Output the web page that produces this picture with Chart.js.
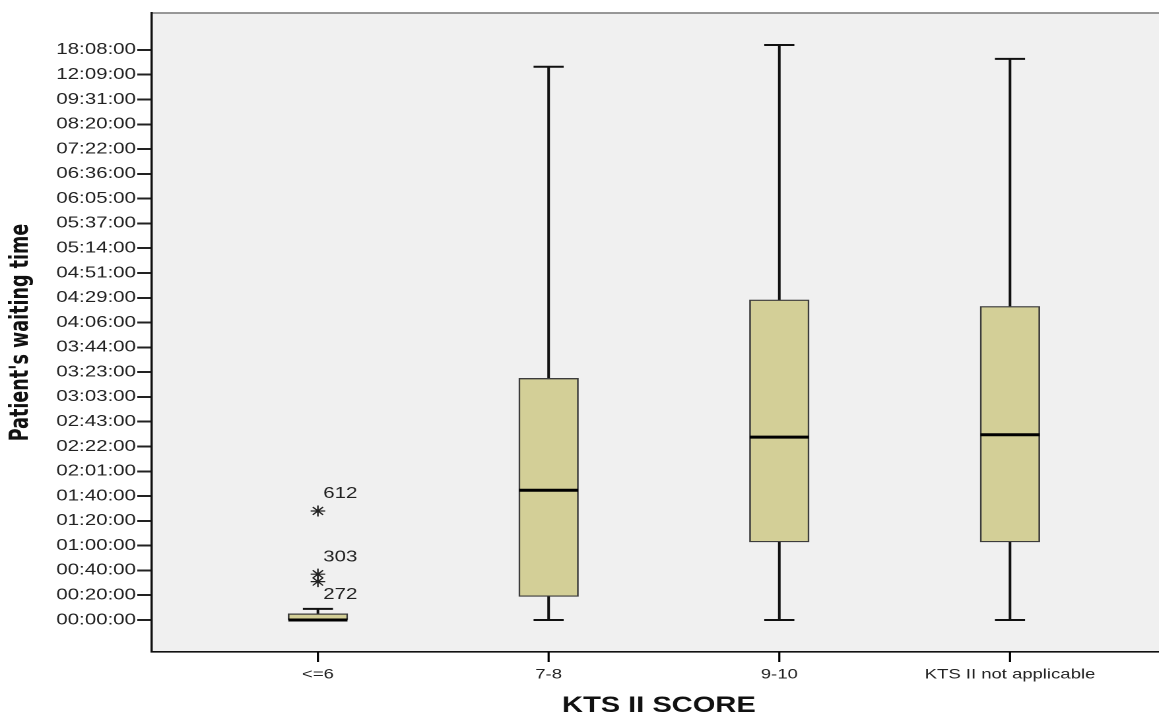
<!DOCTYPE html>
<html>
<head>
<meta charset="utf-8">
<script src="https://cdn.jsdelivr.net/npm/chart.js@4.4.1/dist/chart.umd.min.js"></script>
<style>
  html, body { margin: 0; padding: 0; background: #fff; overflow: hidden; }
  /* the reference is stretched sideways, so the canvas is too */
  #wrap { width: 890px; height: 715px; transform: scaleX(1.32); transform-origin: 0 0; }
</style>
</head>
<body>
<div id="wrap"><canvas id="chart"></canvas></div>
<script>
// groups on the x axis
const categories = ['<=6', '7-8', '9-10', 'KTS II not applicable'];

// y axis tick labels (SPSS axis, equally spaced ticks)
const yTickLabels = ['00:00:00', '00:20:00', '00:40:00', '01:00:00', '01:20:00', '01:40:00',
  '02:01:00', '02:22:00', '02:43:00', '03:03:00', '03:23:00', '03:44:00', '04:06:00',
  '04:29:00', '04:51:00', '05:14:00', '05:37:00', '06:05:00', '06:36:00', '07:22:00',
  '08:20:00', '09:31:00', '12:09:00', '18:08:00'];

// box plot values (h:mm)
const whiskerLow  = ['0:00', '0:00', '0:00', '0:00'];
const q1          = ['0:00', '0:19', '1:03', '1:03'];
const median      = ['0:00', '1:45', '2:30', '2:32'];
const q3          = ['0:05', '3:18', '4:27', '4:21'];
const whiskerHigh = ['0:09', '14:04', '19:20', '15:59'];

// extreme values (stars) with their case numbers
const outlierGroup = [0, 0, 0];
const outlierTime  = ['1:28', '0:37', '0:31'];
const outlierCase  = ['612', '303', '272'];

const toMin = s => { const p = s.split(':').map(Number); return p[0] * 60 + p[1]; };
const tickMins = yTickLabels.map(toMin);

// place a time on the equally spaced tick axis
function axisPos(t) {
  const m = toMin(t);
  for (let i = 0; i < tickMins.length - 1; i++) {
    if (m <= tickMins[i + 1]) return i + (m - tickMins[i]) / (tickMins[i + 1] - tickMins[i]);
  }
  const n = tickMins.length - 1;
  return n + (m - tickMins[n]) / (tickMins[n] - tickMins[n - 1]);
}

const FONT = '"Liberation Sans", Arial, sans-serif';

const boxPlotExtras = {
  id: 'boxPlotExtras',
  beforeDraw(chart) {
    const { ctx, chartArea: a } = chart;
    ctx.save();
    ctx.fillStyle = '#f0f0f0';
    ctx.fillRect(a.left, a.top, a.right - a.left, a.bottom - a.top);
    ctx.strokeStyle = '#8a8a8a';
    ctx.lineWidth = 1.8;
    ctx.beginPath();
    ctx.moveTo(a.left, a.top);
    ctx.lineTo(a.right + 10, a.top);
    ctx.stroke();
    ctx.restore();
  },
  beforeDatasetsDraw(chart) {
    const { ctx, chartArea: a, scales: { x, y } } = chart;
    const capHalf = 11.4;
    ctx.save();
    ctx.strokeStyle = '#111';
    categories.forEach((c, i) => {
      const px = x.getPixelForValue(i);
      const lo = y.getPixelForValue(axisPos(whiskerLow[i]));
      const b1 = y.getPixelForValue(axisPos(q1[i]));
      const b3 = y.getPixelForValue(axisPos(q3[i]));
      const hi = y.getPixelForValue(axisPos(whiskerHigh[i]));
      ctx.lineWidth = 2;
      ctx.beginPath();
      ctx.moveTo(px, b3); ctx.lineTo(px, hi);
      ctx.moveTo(px, b1); ctx.lineTo(px, lo);
      ctx.stroke();
      ctx.beginPath();
      ctx.moveTo(px - capHalf, hi); ctx.lineTo(px + capHalf, hi);
      if (b1 !== lo) { ctx.moveTo(px - capHalf, lo); ctx.lineTo(px + capHalf, lo); }
      ctx.stroke();
      // category tick mark under the axis
      ctx.lineWidth = 1.6;
      ctx.strokeStyle = '#000';
      ctx.beginPath();
      ctx.moveTo(px, a.bottom); ctx.lineTo(px, a.bottom + 10);
      ctx.stroke();
      ctx.strokeStyle = '#111';
    });
    ctx.restore();
  },
  afterDatasetsDraw(chart) {
    const { ctx, scales: { x, y } } = chart;
    const half = 22.4;
    ctx.save();
    ctx.strokeStyle = '#000';
    ctx.lineWidth = 3;
    categories.forEach((c, i) => {
      const px = x.getPixelForValue(i);
      const py = y.getPixelForValue(axisPos(median[i]));
      ctx.beginPath();
      ctx.moveTo(px - half, py); ctx.lineTo(px + half, py);
      ctx.stroke();
    });
    // case numbers next to the stars
    ctx.fillStyle = '#222';
    ctx.font = '15.5px ' + FONT;
    ctx.textAlign = 'left';
    ctx.textBaseline = 'middle';
    outlierTime.forEach((t, i) => {
      const px = x.getPixelForValue(outlierGroup[i]);
      const py = y.getPixelForValue(axisPos(t));
      const crowded = outlierTime.some((o, j) => j !== i && outlierGroup[j] === outlierGroup[i] &&
        toMin(o) > toMin(t) && py - y.getPixelForValue(axisPos(o)) < 12);
      ctx.fillText(outlierCase[i], px + 4, crowded ? py + 13 : py - 17);
    });
    ctx.restore();
  }
};

new Chart(document.getElementById('chart'), {
  type: 'bar',
  data: {
    datasets: [{
      label: 'box',
      data: categories.map((c, i) => ({ x: i, y: [axisPos(q1[i]), axisPos(q3[i])] })),
      backgroundColor: '#d3cf97',
      borderColor: '#3c3c3c',
      borderWidth: 1.3,
      borderSkipped: false,
      barThickness: 45
    }, {
      type: 'scatter',
      label: 'extremes',
      data: outlierTime.map((t, i) => ({ x: outlierGroup[i], y: axisPos(t) })),
      pointStyle: 'star',
      pointRadius: 5.5,
      borderColor: '#222',
      borderWidth: 1.2,
      backgroundColor: '#222'
    }]
  },
  options: {
    responsive: true,
    maintainAspectRatio: false,
    devicePixelRatio: 2,
    animation: false,
    layout: { padding: { top: 13, right: 2, bottom: 0, left: 0 } },
    plugins: { legend: { display: false }, tooltip: { enabled: false } },
    scales: {
      x: {
        type: 'linear',
        offset: false,
        min: -0.72,
        max: 3.676,
        afterBuildTicks: s => { s.ticks = categories.map((c, i) => ({ value: i })); },
        afterFit: s => { s.height = 63; },
        ticks: {
          autoSkip: false,
          maxRotation: 0,
          padding: 6,
          color: '#222',
          font: { family: FONT, size: 14 },
          callback: v => categories[v]
        },
        grid: { display: false },
        border: { display: true, color: '#111', width: 1.6 },
        title: {
          display: true,
          text: 'KTS II SCORE',
          color: '#111',
          padding: 0,
          font: { family: FONT, size: 22, weight: 'bold', lineHeight: 0.82 }
        }
      },
      y: {
        type: 'linear',
        min: -1.29,
        max: 24.49,
        afterBuildTicks: s => { s.ticks = yTickLabels.map((l, i) => ({ value: i })); },
        afterFit: s => { s.width = 115; },
        ticks: {
          autoSkip: false,
          padding: 1,
          color: '#222',
          font: { family: FONT, size: 15.5 },
          callback: v => yTickLabels[v]
        },
        grid: { drawOnChartArea: false, drawTicks: true, tickLength: 11, tickWidth: 2, tickColor: '#222' },
        border: { display: true, color: '#111', width: 1.7 },
        title: {
          display: true,
          text: "Patient's waiting time",
          color: '#111',
          padding: { top: 6, bottom: 0 },
          font: { family: '"Liberation Sans Narrow", "DejaVu Sans Condensed", "Arial Narrow", ' + FONT, size: 19.5, weight: 'bold', lineHeight: 1 }
        }
      }
    }
  },
  plugins: [boxPlotExtras]
});
</script>
</body>
</html>
